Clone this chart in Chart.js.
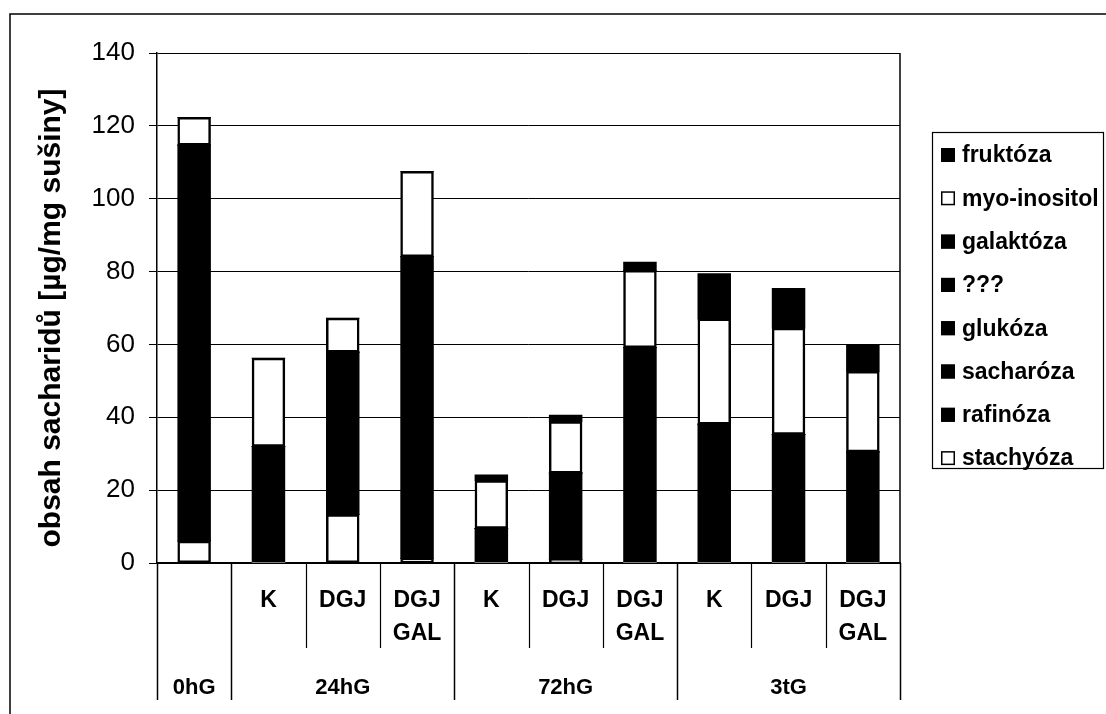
<!DOCTYPE html>
<html>
<head>
<meta charset="utf-8">
<title>obsah sacharidů</title>
<script src="https://cdn.jsdelivr.net/npm/chart.js@4/dist/chart.umd.min.js"></script>
<style>
  html, body { margin: 0; padding: 0; background: #fff; }
  canvas { display: block; }
</style>
</head>
<body>
<canvas id="chart" width="1106" height="714"></canvas>
<script>
// Categories: sub-label lines for each bar, and the groups they belong to
const subLabels = [[''], ['K'], ['DGJ'], ['DGJ', 'GAL'], ['K'], ['DGJ'], ['DGJ', 'GAL'], ['K'], ['DGJ'], ['DGJ', 'GAL']];
const groupLabels = ['0hG', '24hG', '72hG', '3tG'];
const groupSizes = [1, 3, 3, 3];

// Saccharide content [µg/mg dry weight], stacked bottom to top
const stachyoza   = [6.0, 0, 13.3, 1.2, 0, 0.9, 0, 0, 0, 0];
const rafinoza    = [0, 0, 0, 0, 0, 0, 0, 0, 0, 0];
const sacharoza   = [108.7, 32.0, 44.6, 82.9, 9.5, 23.8, 59.1, 38.1, 35.3, 30.5];
const glukoza     = [0, 0, 0, 0, 0, 0, 0, 0, 0, 0];
const neznamy     = [0, 0, 0, 0, 0, 0, 0, 0, 0, 0];
const galaktoza   = [0, 0, 0, 0, 0, 0, 0, 0, 0, 0];
const myoInositol = [7.6, 24.2, 9.3, 23.4, 13.1, 14.1, 21.2, 28.9, 29.2, 22.1];
const fruktoza    = [0, 0, 0, 0, 1.6, 1.8, 2.3, 12.4, 10.9, 7.3];

const seriesNames = ['stachyóza', 'rafinóza', 'sacharóza', 'glukóza', '???', 'galaktóza', 'myo-inositol', 'fruktóza'];
const seriesValues = [stachyoza, rafinoza, sacharoza, glukoza, neznamy, galaktoza, myoInositol, fruktoza];
const seriesFill = ['#ffffff', '#000000', '#000000', '#000000', '#000000', '#000000', '#ffffff', '#000000'];

const yMin = 0, yMax = 140, yStep = 20;
const yTitle = 'obsah sacharidů [µg/mg sušiny]';

const FONT = "'Liberation Sans', Arial, sans-serif";

const datasets = seriesNames.map((name, i) => ({
  label: name,
  data: seriesValues[i],
  backgroundColor: seriesFill[i],
  borderColor: '#000',
  // white segments carry an outline; black ones are solid fills
  borderWidth: ctx => (ctx.raw && seriesFill[i] === '#ffffff') ? 2.5 : 0,
  borderSkipped: false,
  inflateAmount: 0.4,
  categoryPercentage: 1,
  barPercentage: 0.44
}));

// Outer frame, axis title, plot box, two-level category dividers, group labels, legend
const decorations = {
  id: 'decorations',
  beforeDraw(chart) {
    const ctx = chart.ctx;
    ctx.save();
    ctx.fillStyle = '#fff';
    ctx.fillRect(0, 0, chart.width, chart.height);
    ctx.strokeStyle = '#000';
    ctx.lineWidth = 1.5;
    ctx.beginPath();
    ctx.moveTo(10, chart.height + 2);
    ctx.lineTo(10, 14);
    ctx.lineTo(chart.width + 2, 14);
    ctx.stroke();

    // y axis title
    ctx.translate(52, 318);
    ctx.rotate(-Math.PI / 2);
    ctx.fillStyle = '#000';
    ctx.font = 'bold 30px ' + FONT;
    ctx.textAlign = 'center';
    ctx.textBaseline = 'middle';
    ctx.fillText(yTitle, 0, 0);
    ctx.restore();
  },
  afterDraw(chart) {
    const ctx = chart.ctx;
    const area = chart.chartArea;
    const xs = chart.scales.x;
    const n = subLabels.length;
    ctx.save();
    ctx.strokeStyle = '#000';

    // right edge of the plot area
    ctx.lineWidth = 1.5;
    ctx.beginPath();
    ctx.moveTo(area.right, area.top);
    ctx.lineTo(area.right, area.bottom);
    ctx.stroke();

    // boundaries between categories
    const edge = i => {
      if (i === 0) return area.left;
      if (i === n) return area.right;
      return (xs.getPixelForValue(i - 1) + xs.getPixelForValue(i)) / 2;
    };
    const groupStarts = [0];
    groupSizes.forEach((s, k) => groupStarts.push(groupStarts[k] + s));
    for (let i = 0; i <= n; i++) {
      const x = Math.round(edge(i)) + 0.5;
      const isGroup = groupStarts.includes(i);
      ctx.lineWidth = isGroup ? 1.5 : 1.2;
      ctx.beginPath();
      ctx.moveTo(x, area.bottom);
      ctx.lineTo(x, isGroup ? area.bottom + 137 : area.bottom + 85);
      ctx.stroke();
    }

    // group labels
    ctx.fillStyle = '#000';
    ctx.font = 'bold 22px ' + FONT;
    ctx.textAlign = 'center';
    ctx.textBaseline = 'alphabetic';
    groupLabels.forEach((g, k) => {
      const a = edge(groupStarts[k]);
      const b = edge(groupStarts[k + 1]);
      ctx.fillText(g, (a + b) / 2, area.bottom + 131);
    });

    // legend, top series first
    const lx = 932, ly = 132, lw = 171, lh = 336;
    ctx.lineWidth = 1.2;
    ctx.strokeRect(lx + 0.5, ly + 0.5, lw, lh);
    ctx.font = 'bold 23px ' + FONT;
    ctx.textAlign = 'left';
    ctx.textBaseline = 'middle';
    const order = chart.data.datasets.map((d, i) => i).reverse();
    order.forEach((di, r) => {
      const ds = chart.data.datasets[di];
      const cy = ly + 23 + r * 43.3;
      ctx.fillStyle = ds.backgroundColor;
      ctx.fillRect(941, cy - 7, 14, 14);
      ctx.lineWidth = 1.5;
      ctx.strokeStyle = '#000';
      ctx.strokeRect(941.75, cy - 6.25, 12.5, 12.5);
      ctx.fillStyle = '#000';
      ctx.fillText(ds.label, 962, cy + 1);
    });
    ctx.restore();
  }
};

new Chart(document.getElementById('chart'), {
  type: 'bar',
  data: { labels: subLabels.map((s, i) => i), datasets },
  plugins: [decorations],
  options: {
    responsive: false,
    animation: false,
    devicePixelRatio: 1,
    layout: { padding: { top: 53, right: 206, left: 0, bottom: 0 } },
    plugins: { legend: { display: false }, tooltip: { enabled: false } },
    scales: {
      x: {
        stacked: true,
        grid: { display: false, drawTicks: false },
        border: { display: true, color: '#000', width: 1.5 },
        ticks: {
          color: '#000',
          padding: 22,
          maxRotation: 0,
          autoSkip: false,
          font: { family: FONT, size: 23, weight: 'bold', lineHeight: 1.4 },
          callback: (v, i) => subLabels[i]
        },
        afterFit(scale) { scale.height = 151; }
      },
      y: {
        stacked: true,
        min: yMin,
        max: yMax,
        ticks: {
          stepSize: yStep,
          color: '#000',
          padding: 14,
          font: { family: FONT, size: 26 }
        },
        grid: { color: '#000', lineWidth: 1, tickLength: 8, drawTicks: true },
        border: { color: '#000', width: 1.5 },
        afterFit(scale) { scale.width = 157; }
      }
    }
  }
});
</script>
</body>
</html>
